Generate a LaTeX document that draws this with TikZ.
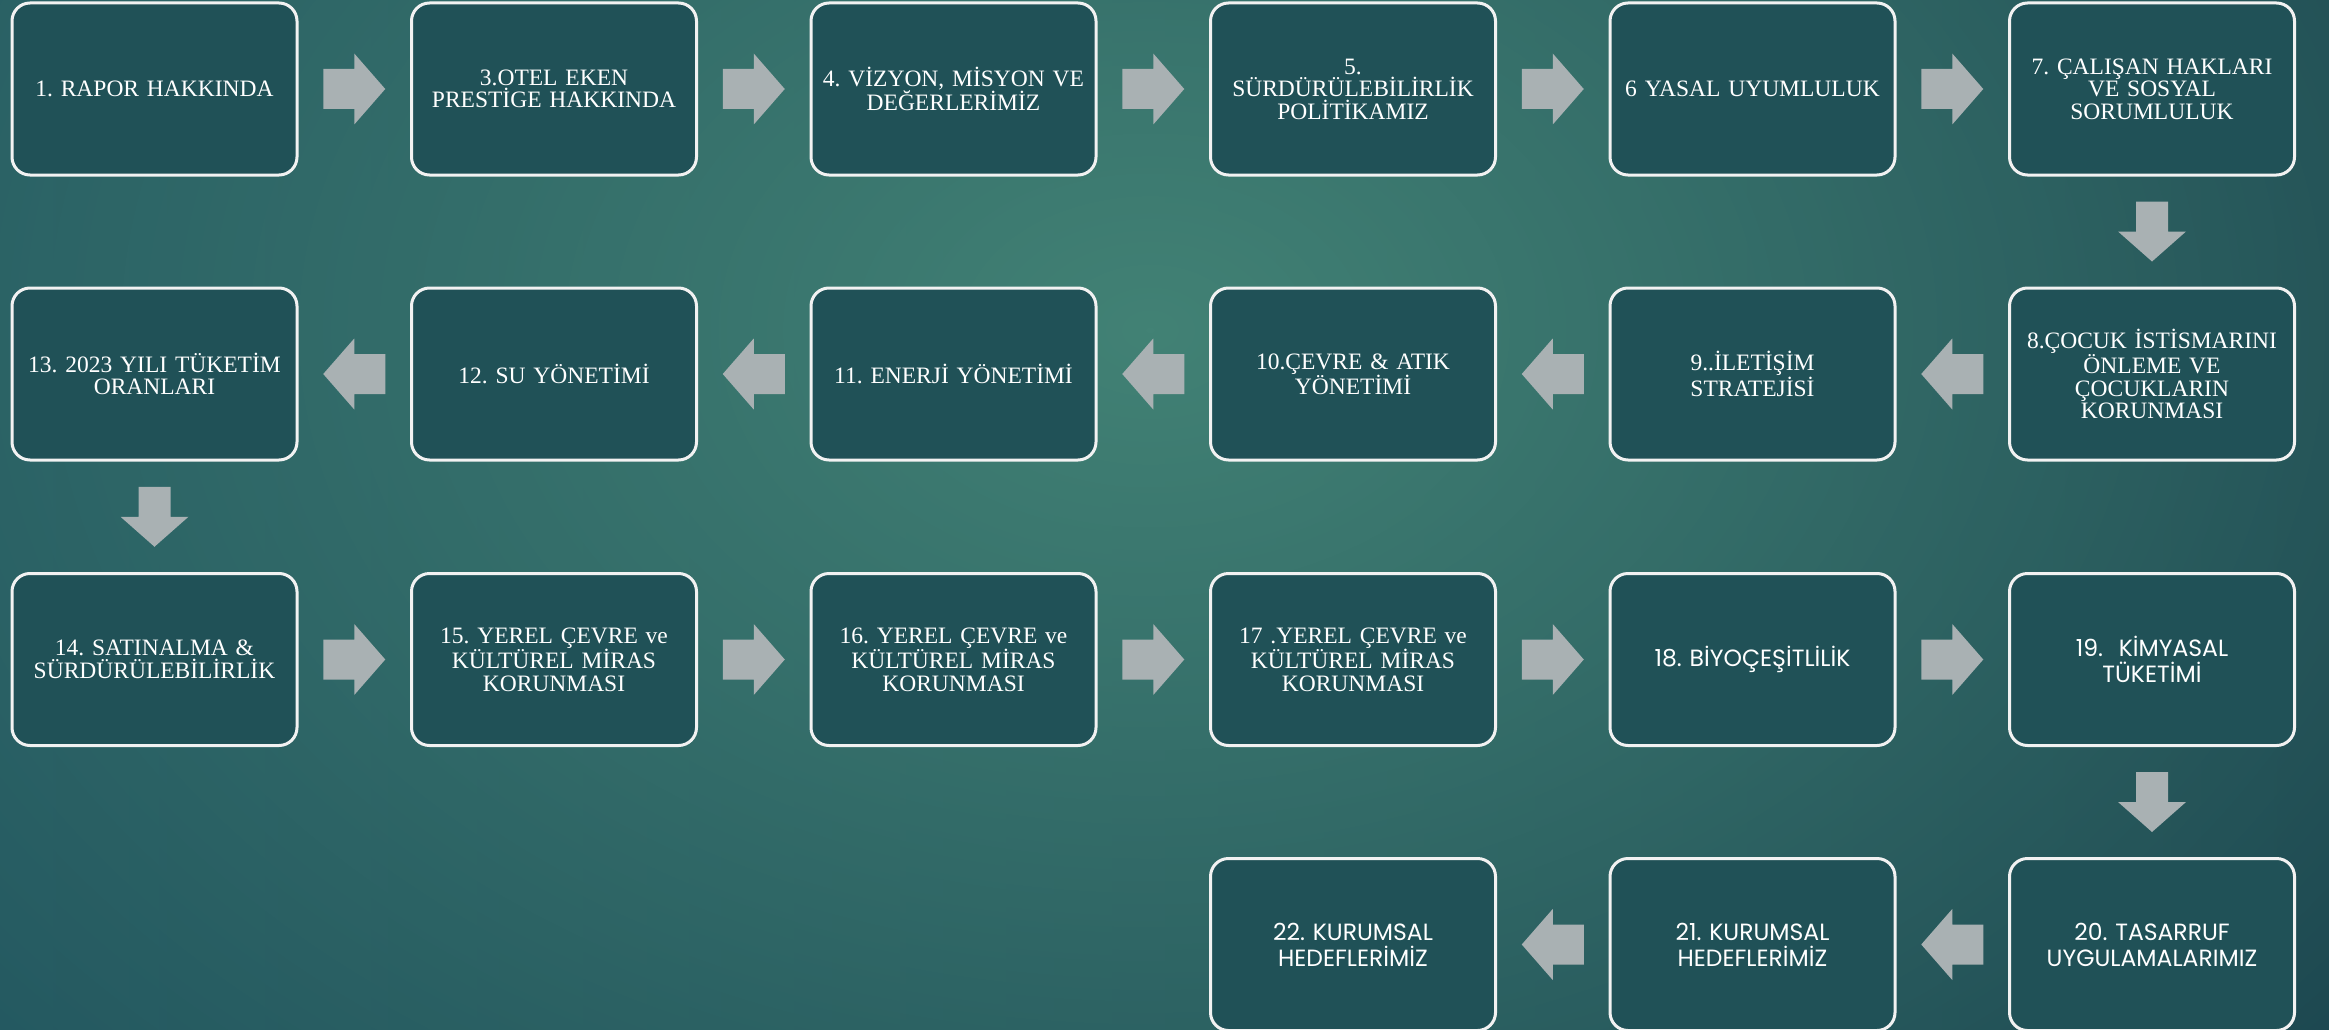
\documentclass[tikz,border=0pt]{standalone}
\usepackage{fontspec}
\setmainfont{Liberation Serif}
\newfontfamily\gothic{Poppins}
\usetikzlibrary{calc,fadings}
\definecolor{bgleft}{HTML}{1A4B5A}
\definecolor{bgright}{HTML}{113545}
\definecolor{bglight}{HTML}{428275}
\definecolor{boxfill}{HTML}{205157}
\definecolor{arrowfill}{HTML}{A9B1B3}
\definecolor{boxline}{HTML}{F2F2F2}
\tikzfading[name=glowfade, inner color=transparent!0, outer color=transparent!100]
\begin{document}
\frenchspacing
\begin{tikzpicture}[x=1pt,y=-1pt,
  box/.style={draw=boxline, line width=3pt, fill=boxfill, rounded corners=18pt,
    minimum width=285pt, minimum height=172pt, text width=280pt, align=center,
    text=white, inner sep=0pt, font=\frenchspacing\fontsize{23.5}{22.5}\selectfont},
  gbox/.style={box, font=\frenchspacing\gothic\fontsize{23.5}{26}\selectfont},
  rarrow/.pic={\fill[arrowfill] (-31,-20) -- (0,-20) -- (0,-35.5) -- (31,0) -- (0,35.5) -- (0,20) -- (-31,20) -- cycle;},
  darrow/.pic={\fill[arrowfill] (-16,-30) -- (16,-30) -- (16,0) -- (34,0) -- (0,30) -- (-34,0) -- (-16,0) -- cycle;}
]
\useasboundingbox (0,0) rectangle (2329,1030);
\begin{scope}
  \clip (0,0) rectangle (2329,1030);
  \shade[left color=bgleft, right color=bgright] (0,0) rectangle (2329,1030);
  \fill[bglight, path fading=glowfade] (1150,330) ellipse [x radius=2050, y radius=1450];
\end{scope}

% row 1
\node[box] (b1) at (154.5,89) {1. RAPOR HAKKINDA};
\node[box] (b3) at (554,89) {3.OTEL EKEN\\PRESTİGE HAKKINDA};
\node[box] (b4) at (953.5,89) {4. VİZYON, MİSYON VE\\DEĞERLERİMİZ};
\node[box] (b5) at (1353,89) {5.\\SÜRDÜRÜLEBİLİRLİK\\POLİTİKAMIZ};
\node[box] (b6) at (1752.5,89) {6 YASAL UYUMLULUK};
\node[box] (b7) at (2152,89) {7. ÇALIŞAN HAKLARI\\VE SOSYAL\\SORUMLULUK};
% row 2
\node[box] (b13) at (154.5,374) {13. 2023 YILI TÜKETİM\\ORANLARI};
\node[box] (b12) at (554,374) {12. SU YÖNETİMİ};
\node[box] (b11) at (953.5,374) {11. ENERJİ YÖNETİMİ};
\node[box] (b10) at (1353,374) {10.ÇEVRE \& ATIK\\YÖNETİMİ};
\node[box] (b9) at (1752.5,374) {9..İLETİŞİM\\STRATEJİSİ};
\node[box] (b8) at (2152,374) {8.ÇOCUK İSTİSMARINI\\ÖNLEME VE\\ÇOCUKLARIN\\KORUNMASI};
% row 3
\node[box] (b14) at (154.5,659.5) {14. SATINALMA \&\\SÜRDÜRÜLEBİLİRLİK};
\node[box] (b15) at (554,659.5) {15. YEREL ÇEVRE ve\\KÜLTÜREL MİRAS\\KORUNMASI};
\node[box] (b16) at (953.5,659.5) {16. YEREL ÇEVRE ve\\KÜLTÜREL MİRAS\\KORUNMASI};
\node[box] (b17) at (1353,659.5) {17 .YEREL ÇEVRE ve\\KÜLTÜREL MİRAS\\KORUNMASI};
\node[gbox] (b18) at (1752.5,659.5) {18. BİYOÇEŞİTLİLİK};
\node[gbox] (b19) at (2152,659.5) {19.~~KİMYASAL\\TÜKETİMİ};
% row 4
\node[gbox] (b22) at (1353,944.5) {22. KURUMSAL\\HEDEFLERİMİZ};
\node[gbox] (b21) at (1752.5,944.5) {21. KURUMSAL\\HEDEFLERİMİZ};
\node[gbox] (b20) at (2152,944.5) {20. TASARRUF\\UYGULAMALARIMIZ};

% arrows
\pic at ($(b1.east)!0.5!(b3.west)$) {rarrow};
\pic at ($(b3.east)!0.5!(b4.west)$) {rarrow};
\pic at ($(b4.east)!0.5!(b5.west)$) {rarrow};
\pic at ($(b5.east)!0.5!(b6.west)$) {rarrow};
\pic at ($(b6.east)!0.5!(b7.west)$) {rarrow};
\pic at ($(b7.south)!0.5!(b8.north)$) {darrow};
\pic[rotate=180] at ($(b8.west)!0.5!(b9.east)$) {rarrow};
\pic[rotate=180] at ($(b9.west)!0.5!(b10.east)$) {rarrow};
\pic[rotate=180] at ($(b10.west)!0.5!(b11.east)$) {rarrow};
\pic[rotate=180] at ($(b11.west)!0.5!(b12.east)$) {rarrow};
\pic[rotate=180] at ($(b12.west)!0.5!(b13.east)$) {rarrow};
\pic at ($(b13.south)!0.5!(b14.north)$) {darrow};
\pic at ($(b14.east)!0.5!(b15.west)$) {rarrow};
\pic at ($(b15.east)!0.5!(b16.west)$) {rarrow};
\pic at ($(b16.east)!0.5!(b17.west)$) {rarrow};
\pic at ($(b17.east)!0.5!(b18.west)$) {rarrow};
\pic at ($(b18.east)!0.5!(b19.west)$) {rarrow};
\pic at ($(b19.south)!0.5!(b20.north)$) {darrow};
\pic[rotate=180] at ($(b20.west)!0.5!(b21.east)$) {rarrow};
\pic[rotate=180] at ($(b21.west)!0.5!(b22.east)$) {rarrow};
\end{tikzpicture}
\end{document}
